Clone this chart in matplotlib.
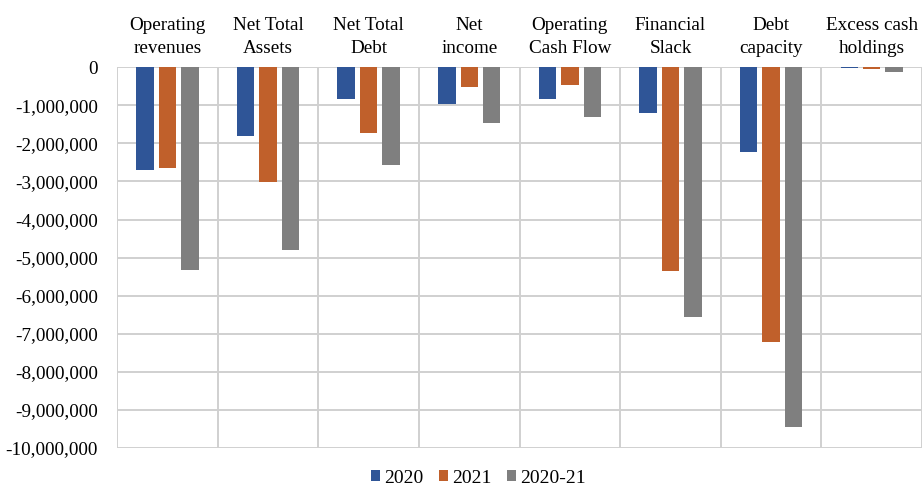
import matplotlib.pyplot as plt
import numpy as np
from matplotlib.ticker import FuncFormatter

plt.rcParams["font.family"] = ["Liberation Serif", "DejaVu Serif"]

categories = [
    "Operating\nrevenues",
    "Net Total\nAssets",
    "Net Total\nDebt",
    "Net\nincome",
    "Operating\nCash Flow",
    "Financial\nSlack",
    "Debt\ncapacity",
    "Excess cash\nholdings",
]
series_names = ["2020", "2021", "2020-21"]
values_2020 = [-2700000, -1810000, -840000, -970000, -840000, -1210000, -2230000, -30000]
values_2021 = [-2650000, -3020000, -1730000, -520000, -470000, -5350000, -7220000, -50000]
values_2020_21 = [-5330000, -4800000, -2570000, -1470000, -1310000, -6560000, -9450000, -120000]
colors = ["#2F5597", "#C0602B", "#7F7F7F"]

fig = plt.figure(figsize=(9.22, 4.87), dpi=100)
ax = fig.add_axes([0.127, 0.080, 0.873, 0.782])

x = np.arange(len(categories))
width = 0.173
step = 0.223
for k, (vals, name, col) in enumerate(zip([values_2020, values_2021, values_2020_21], series_names, colors)):
    ax.bar(x + (k - 1) * step, vals, width, color=col, label=name, zorder=3)

ax.set_xlim(-0.5, len(categories) - 0.5)
ax.set_ylim(-10000000, 0)
ax.set_yticks(np.arange(-10000000, 1, 1000000))
ax.yaxis.set_major_formatter(FuncFormatter(lambda v, p: f"{int(v):,}"))

ax.xaxis.tick_top()
ax.set_xticks(x)
ax.set_xticklabels(categories, fontsize=13.8, linespacing=1.5)
ax.set_xticks(np.arange(-0.5, len(categories)), minor=True)
ax.tick_params(axis="x", which="both", length=0, pad=7)
ax.tick_params(axis="y", length=0, labelsize=13.8, pad=14)

ax.grid(axis="y", which="major", color="#D0D0D0", linewidth=1.4, zorder=0)
ax.grid(axis="x", which="minor", color="#D0D0D0", linewidth=1.4, zorder=0)
ax.grid(axis="x", which="major", visible=False)
for s in ax.spines.values():
    s.set_visible(False)

fig.legend(loc="center", bbox_to_anchor=(0.519, 0.018), ncol=3, frameon=False,
           fontsize=14, handlelength=0.47, handleheight=0.47, handletextpad=0.2,
           columnspacing=0.8, borderpad=0.1)

fig.savefig("out.png", dpi=100)
